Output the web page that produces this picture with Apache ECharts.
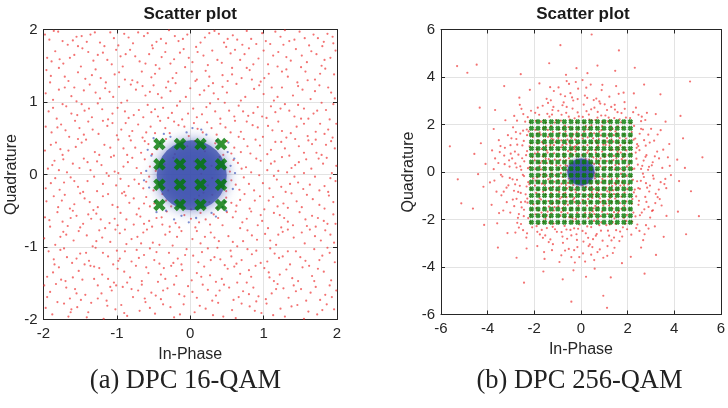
<!DOCTYPE html>
<html>
<head>
<meta charset="utf-8">
<script src="https://cdn.jsdelivr.net/npm/echarts@6/dist/echarts.min.js"></script>
<style>html,body{margin:0;padding:0;background:#fff;}#c{width:728px;height:408px;}</style>
</head>
<body>
<div id="c"></div>
<script>
// 16-QAM and 256-QAM constellation levels (in-phase / quadrature)
const levelsA = [-0.42, -0.14, 0.14, 0.42];
const levelsB = [-2.12, -1.84, -1.56, -1.27, -0.99, -0.71, -0.42, -0.14, 0.14, 0.42, 0.71, 0.99, 1.27, 1.56, 1.84, 2.12];

// (a) red DPC samples, spread over the whole [-2,2] box
const noiseA = [
[-1.97,-1.84],[-1.88,-1.93],[-1.72,-1.78],[-1.66,-1.96],[-1.54,-1.83],[-1.39,-1.9],[-1.35,-1.77],[-1.18,-1.99],[-1.02,-1.86],[-0.94,-1.8],[-0.86,-1.95],[-0.69,-1.88],[-0.61,-1.76],[-0.48,-1.92],[-0.27,-1.83],[-0.22,-1.97],[-0.09,-1.79],[0.06,-1.9],[0.13,-1.81],[0.31,-1.94],[0.38,-1.77],[0.57,-1.87],[0.62,-1.98],[0.81,-1.82],[0.97,-1.91],[1.04,-1.78],[1.23,-1.85],[1.29,-1.96],[1.46,-1.8],[1.61,-1.89],[1.73,-1.93],[1.86,-1.79],[1.96,-1.86],
[-1.91,-1.62],[-1.83,-1.51],[-1.64,-1.71],[-1.57,-1.58],[-1.43,-1.66],[-1.26,-1.53],[-1.14,-1.74],[-1.07,-1.6],[-0.92,-1.55],[-0.78,-1.69],[-0.66,-1.52],[-0.53,-1.63],[-0.4,-1.72],[-0.31,-1.57],[-0.15,-1.65],[-0.03,-1.54],[0.09,-1.7],[0.24,-1.59],[0.35,-1.67],[0.46,-1.52],[0.59,-1.73],[0.72,-1.61],[0.86,-1.56],[0.93,-1.68],[1.11,-1.64],[1.19,-1.51],[1.34,-1.7],[1.51,-1.58],[1.58,-1.74],[1.71,-1.55],[1.84,-1.66],[1.99,-1.6],
[-1.95,-1.41],[-1.79,-1.28],[-1.7,-1.47],[-1.52,-1.33],[-1.47,-1.45],[-1.31,-1.27],[-1.2,-1.38],[-1.04,-1.49],[-0.99,-1.3],[-0.82,-1.42],[-0.74,-1.26],[-0.57,-1.36],[-0.44,-1.48],[-0.36,-1.29],[-0.19,-1.4],[-0.11,-1.32],[0.02,-1.46],[0.19,-1.27],[0.27,-1.39],[0.43,-1.44],[0.51,-1.3],[0.68,-1.37],[0.77,-1.49],[0.89,-1.26],[1.07,-1.35],[1.14,-1.47],[1.31,-1.31],[1.39,-1.43],[1.53,-1.28],[1.66,-1.4],[1.82,-1.34],[1.92,-1.46],
[-1.86,-1.17],[-1.77,-1.04],[-1.61,-1.22],[-1.5,-1.09],[-1.38,-1.19],[-1.29,-1.01],[-1.12,-1.13],[-1.05,-1.24],[-0.89,-1.06],[-0.8,-1.2],[-0.63,-1.11],[-0.55,-1.02],[-0.42,-1.23],[-0.29,-1.08],[-0.17,-1.16],[-0.05,-1.03],[0.11,-1.21],[0.16,-1.07],[0.33,-1.14],[0.47,-1.25],[0.55,-1.05],[0.7,-1.18],[0.84,-1.1],[0.96,-1.22],[1.09,-1.02],[1.21,-1.15],[1.36,-1.24],[1.44,-1.06],[1.57,-1.19],[1.69,-1.03],[1.8,-1.12],[1.97,-1.21],
[-1.99,-0.88],[-1.84,-0.97],[-1.73,-0.79],[-1.59,-0.91],[-1.41,-0.84],[-1.33,-0.99],[-1.24,-0.77],[-1.09,-0.93],[-0.96,-0.81],[-0.87,-0.96],[-0.72,-0.86],[-0.59,-0.76],[-0.51,-0.94],[-0.34,-0.83],[-0.24,-0.98],[-0.12,-0.78],[0.03,-0.89],[0.14,-0.95],[0.28,-0.8],[0.39,-0.92],[0.52,-0.85],[0.64,-0.99],[0.78,-0.77],[0.91,-0.9],[1.02,-0.82],[1.17,-0.97],[1.26,-0.79],[1.41,-0.87],[1.56,-0.95],[1.63,-0.76],[1.78,-0.91],[1.91,-0.83],
[-1.92,-0.63],[-1.81,-0.52],[-1.67,-0.71],[-1.55,-0.57],[-1.46,-0.68],[-1.28,-0.54],[-1.16,-0.74],[-1.03,-0.61],[-0.95,-0.53],[-0.77,-0.69],[-0.68,-0.58],[-0.52,-0.72],[-0.46,-0.6],[-0.32,-0.51],[-0.2,-0.67],[-0.08,-0.56],[0.07,-0.73],[0.21,-0.62],[0.32,-0.55],[0.44,-0.7],[0.58,-0.59],[0.71,-0.66],[0.83,-0.51],[0.98,-0.64],[1.06,-0.74],[1.22,-0.56],[1.33,-0.65],[1.49,-0.52],[1.59,-0.71],[1.74,-0.6],[1.87,-0.68],[1.95,-0.55],
[-1.96,-0.37],[-1.8,-0.45],[-1.71,-0.28],[-1.58,-0.41],[-1.44,-0.33],[-1.32,-0.49],[-1.19,-0.3],[-1.06,-0.42],[-0.93,-0.26],[-0.83,-0.39],[-0.7,-0.47],[-0.6,-0.31],[-0.49,-0.4],[-0.38,-0.27],[-0.26,-0.44],[-0.13,-0.35],[0.01,-0.48],[0.12,-0.29],[0.26,-0.38],[0.37,-0.46],[0.49,-0.32],[0.63,-0.43],[0.74,-0.27],[0.88,-0.36],[1.01,-0.48],[1.13,-0.31],[1.27,-0.4],[1.38,-0.26],[1.52,-0.45],[1.67,-0.34],[1.76,-0.42],[1.89,-0.29],
[-1.9,-0.12],[-1.78,-0.21],[-1.63,-0.04],[-1.53,-0.17],[-1.4,-0.09],[-1.27,-0.23],[-1.11,-0.02],[-1.01,-0.15],[-0.9,-0.24],[-0.76,-0.07],[-0.64,-0.19],[-0.56,-0.03],[-0.43,-0.14],[-0.3,-0.22],[-0.18,-0.06],[-0.06,-0.18],[0.08,-0.1],[0.18,-0.25],[0.3,-0.05],[0.42,-0.16],[0.56,-0.08],[0.67,-0.21],[0.8,-0.13],[0.94,-0.01],[1.08,-0.19],[1.18,-0.07],[1.3,-0.24],[1.47,-0.11],[1.54,-0.2],[1.7,-0.03],[1.83,-0.16],[1.98,-0.09],
[-1.94,0.08],[-1.85,0.19],[-1.68,0.03],[-1.6,0.15],[-1.45,0.22],[-1.36,0.06],[-1.21,0.13],[-1.08,0.24],[-0.98,0.02],[-0.85,0.17],[-0.73,0.09],[-0.62,0.21],[-0.47,0.05],[-0.35,0.14],[-0.23,0.23],[-0.1,0.07],[0.05,0.18],[0.15,0.01],[0.29,0.12],[0.4,0.24],[0.54,0.04],[0.65,0.16],[0.76,0.1],[0.9,0.22],[1.05,0.06],[1.15,0.18],[1.32,0.03],[1.43,0.13],[1.58,0.21],[1.65,0.08],[1.81,0.15],[1.93,0.02],
[-1.98,0.33],[-1.83,0.44],[-1.74,0.27],[-1.56,0.38],[-1.42,0.48],[-1.3,0.31],[-1.17,0.41],[-1.04,0.26],[-0.91,0.36],[-0.81,0.47],[-0.67,0.3],[-0.57,0.42],[-0.45,0.35],[-0.33,0.49],[-0.21,0.28],[-0.04,0.39],[0.06,0.46],[0.2,0.32],[0.34,0.43],[0.45,0.27],[0.6,0.37],[0.73,0.49],[0.82,0.29],[0.95,0.4],[1.1,0.34],[1.24,0.45],[1.35,0.26],[1.48,0.39],[1.61,0.47],[1.72,0.3],[1.85,0.41],[1.97,0.36],
[-1.89,0.58],[-1.76,0.69],[-1.65,0.52],[-1.51,0.64],[-1.39,0.73],[-1.25,0.56],[-1.13,0.67],[-1.0,0.54],[-0.88,0.71],[-0.79,0.6],[-0.65,0.51],[-0.54,0.66],[-0.41,0.74],[-0.28,0.57],[-0.16,0.68],[-0.02,0.53],[0.1,0.63],[0.23,0.72],[0.36,0.55],[0.48,0.65],[0.61,0.74],[0.69,0.59],[0.85,0.68],[0.99,0.52],[1.12,0.61],[1.2,0.73],[1.37,0.57],[1.45,0.66],[1.6,0.53],[1.77,0.7],[1.88,0.62],[1.94,0.51],
[-1.93,0.87],[-1.82,0.77],[-1.69,0.94],[-1.54,0.82],[-1.48,0.97],[-1.34,0.79],[-1.2,0.9],[-1.06,0.84],[-0.94,0.99],[-0.84,0.78],[-0.7,0.89],[-0.58,0.96],[-0.44,0.8],[-0.37,0.92],[-0.25,0.85],[-0.11,0.76],[0.04,0.91],[0.16,0.83],[0.27,0.98],[0.41,0.77],[0.53,0.88],[0.66,0.95],[0.79,0.81],[0.92,0.93],[1.04,0.78],[1.16,0.86],[1.29,0.97],[1.42,0.8],[1.55,0.91],[1.68,0.84],[1.79,0.99],[1.9,0.76],
[-1.97,1.12],[-1.87,1.03],[-1.71,1.2],[-1.62,1.08],[-1.45,1.16],[-1.37,1.24],[-1.23,1.05],[-1.1,1.14],[-0.97,1.21],[-0.86,1.02],[-0.74,1.17],[-0.61,1.09],[-0.5,1.23],[-0.39,1.06],[-0.27,1.15],[-0.14,1.01],[0.0,1.19],[0.13,1.1],[0.25,1.22],[0.38,1.04],[0.5,1.13],[0.63,1.25],[0.75,1.07],[0.87,1.18],[1.0,1.11],[1.14,1.02],[1.25,1.2],[1.4,1.09],[1.53,1.17],[1.64,1.04],[1.76,1.23],[1.92,1.13],
[-1.9,1.36],[-1.79,1.47],[-1.66,1.29],[-1.53,1.41],[-1.43,1.32],[-1.29,1.45],[-1.15,1.27],[-1.03,1.38],[-0.92,1.49],[-0.79,1.3],[-0.66,1.42],[-0.53,1.34],[-0.42,1.46],[-0.3,1.28],[-0.19,1.4],[-0.07,1.48],[0.09,1.31],[0.21,1.43],[0.31,1.26],[0.44,1.37],[0.57,1.47],[0.7,1.33],[0.81,1.44],[0.96,1.28],[1.07,1.39],[1.19,1.49],[1.33,1.35],[1.46,1.27],[1.57,1.42],[1.7,1.31],[1.84,1.46],[1.96,1.38],
[-1.95,1.61],[-1.84,1.7],[-1.73,1.53],[-1.58,1.65],[-1.47,1.74],[-1.32,1.57],[-1.19,1.68],[-1.07,1.52],[-0.95,1.63],[-0.82,1.72],[-0.69,1.56],[-0.56,1.66],[-0.47,1.51],[-0.34,1.69],[-0.22,1.59],[-0.09,1.73],[0.03,1.55],[0.18,1.64],[0.3,1.71],[0.43,1.54],[0.55,1.67],[0.68,1.58],[0.8,1.74],[0.93,1.6],[1.06,1.52],[1.2,1.69],[1.31,1.62],[1.44,1.73],[1.59,1.55],[1.72,1.66],[1.83,1.58],[1.98,1.71],
[-1.92,1.86],[-1.8,1.97],[-1.67,1.79],[-1.55,1.9],[-1.41,1.83],[-1.3,1.96],[-1.17,1.77],[-1.04,1.88],[-0.9,1.94],[-0.78,1.81],[-0.63,1.91],[-0.52,1.78],[-0.4,1.87],[-0.29,1.99],[-0.16,1.84],[-0.04,1.93],[0.08,1.76],[0.2,1.89],[0.33,1.98],[0.46,1.82],[0.58,1.92],[0.71,1.79],[0.83,1.87],[0.98,1.95],[1.09,1.8],[1.23,1.9],[1.35,1.84],[1.49,1.97],[1.62,1.78],[1.74,1.88],[1.87,1.94],[1.95,1.81],
[-1.81,-1.76],[-1.62,-1.86],[-1.41,-1.97],[-1.13,-1.81],[-0.9,-1.91],[-0.55,-1.84],[-0.37,-1.79],[-0.14,-1.93],[0.21,-1.85],[0.45,-1.96],[0.7,-1.78],[0.88,-1.88],[1.13,-1.94],[1.38,-1.82],[1.55,-1.99],[1.8,-1.87],
[-1.95,-1.69],[-1.69,-1.56],[-1.49,-1.73],[-1.21,-1.64],[-1.01,-1.53],[-0.71,-1.6],[-0.47,-1.67],[-0.22,-1.52],[0.03,-1.62],[0.3,-1.74],[0.53,-1.56],[0.8,-1.65],[1.03,-1.72],[1.27,-1.57],[1.64,-1.63],[1.9,-1.53],
[-1.87,-1.35],[-1.6,-1.42],[-1.36,-1.26],[-1.12,-1.44],[-0.9,-1.34],[-0.66,-1.47],[-0.4,-1.38],[-0.26,-1.26],[0.09,-1.36],[0.35,-1.48],[0.6,-1.27],[0.83,-1.41],[1.01,-1.29],[1.22,-1.38],[1.47,-1.47],[1.74,-1.3],
[-1.93,-1.06],[-1.68,-1.14],[-1.44,-1.24],[-1.19,-1.08],[-0.96,-1.16],[-0.73,-1.04],[-0.49,-1.18],[-0.23,-1.22],[0.04,-1.12],[0.24,-1.02],[0.41,-1.17],[0.63,-1.23],[0.9,-1.05],[1.15,-1.09],[1.5,-1.14],[1.87,-1.01],
[-1.77,-0.86],[-1.52,-0.78],[-1.28,-0.92],[-1.02,-0.76],[-0.8,-0.89],[-0.64,-0.8],[-0.42,-0.97],[-0.18,-0.86],[0.09,-0.78],[0.33,-0.87],[0.58,-0.93],[0.84,-0.84],[1.09,-0.91],[1.33,-0.76],[1.7,-0.85],[1.96,-0.94],
[-1.98,-0.59],[-1.74,-0.65],[-1.5,-0.73],[-1.22,-0.62],[-0.99,-0.7],[-0.73,-0.55],[-0.56,-0.64],[-0.28,-0.72],[0.01,-0.61],[0.27,-0.69],[0.5,-0.52],[0.77,-0.61],[1.14,-0.53],[1.4,-0.7],[1.66,-0.57],[1.82,-0.64],
[-1.86,-0.3],[-1.64,-0.47],[-1.37,-0.38],[-1.12,-0.27],[-0.99,-0.45],[-0.77,-0.33],[-0.55,-0.44],[-0.33,-0.36],[0.06,-0.34],[0.3,-0.28],[0.56,-0.39],[0.81,-0.47],[1.07,-0.36],[1.33,-0.46],[1.59,-0.28],[1.95,-0.38],
[-1.97,-0.19],[-1.72,-0.11],[-1.46,-0.24],[-1.19,-0.13],[-0.95,-0.06],[-0.7,-0.13],[-0.5,-0.22],[0.24,-0.15],[0.49,-0.23],[0.73,-0.04],[0.99,-0.12],[1.24,-0.17],[1.42,-0.03],[1.63,-0.14],[1.76,-0.22],[1.91,-0.05],
[-1.88,0.13],[-1.73,0.21],[-1.51,0.09],[-1.27,0.18],[-1.03,0.04],[-0.79,0.23],[-0.55,0.11],[0.35,0.07],[0.59,0.2],[0.83,0.03],[1.1,0.15],[1.25,0.24],[1.38,0.09],[1.55,0.02],[1.75,0.22],[1.99,0.12],
[-1.9,0.41],[-1.66,0.33],[-1.48,0.44],[-1.24,0.27],[-0.98,0.48],[-0.75,0.37],[-0.52,0.28],[0.5,0.46],[0.69,0.31],[0.89,0.48],[1.05,0.28],[1.29,0.36],[1.43,0.49],[1.66,0.42],[1.79,0.27],[1.92,0.46],
[-1.97,0.66],[-1.7,0.61],[-1.45,0.55],[-1.19,0.74],[-0.94,0.62],[-0.71,0.69],[-0.48,0.57],[-0.22,0.73],[0.05,0.71],[0.29,0.64],[0.55,0.58],[0.77,0.73],[1.06,0.67],[1.31,0.51],[1.55,0.7],[1.83,0.56],
[-1.87,0.92],[-1.62,0.84],[-1.38,0.91],[-1.12,0.76],[-0.89,0.87],[-0.64,0.79],[-0.48,0.9],[-0.18,0.95],[0.09,0.79],[0.34,0.87],[0.6,0.8],[0.86,0.85],[1.1,0.94],[1.35,0.88],[1.61,0.77],[1.85,0.89],
[-1.79,1.17],[-1.55,1.01],[-1.29,1.13],[-1.05,1.07],[-0.81,1.24],[-0.55,1.14],[-0.33,1.2],[-0.06,1.07],[0.19,1.16],[0.44,1.21],[0.69,1.02],[0.94,1.23],[1.19,1.07],[1.47,1.22],[1.7,1.15],[1.97,1.05],
[-1.96,1.44],[-1.71,1.35],[-1.49,1.49],[-1.22,1.33],[-0.97,1.41],[-0.72,1.27],[-0.48,1.39],[-0.24,1.33],[0.02,1.42],[0.26,1.35],[0.51,1.29],[0.77,1.47],[1.01,1.33],[1.25,1.42],[1.51,1.48],[1.77,1.39],
[-1.89,1.56],[-1.64,1.61],[-1.39,1.69],[-1.13,1.58],[-0.88,1.66],[-0.61,1.53],[-0.39,1.62],[-0.14,1.68],[0.1,1.69],[0.37,1.58],[0.61,1.72],[0.86,1.52],[1.13,1.64],[1.37,1.57],[1.65,1.7],[1.91,1.61],
[-1.98,1.93],[-1.74,1.84],[-1.48,1.91],[-1.23,1.82],[-0.98,1.78],[-0.71,1.96],[-0.46,1.83],[-0.21,1.91],[0.14,1.82],[0.39,1.94],[0.64,1.86],[0.9,1.8],[1.16,1.97],[1.42,1.86],[1.68,1.93],[1.8,1.77],
[-1.63,-1.9],[-1.26,-1.71],[-0.8,-1.58],[-0.34,-1.44],[0.17,-1.52],[0.66,-1.69],[1.08,-1.42],[1.44,-1.61],[1.77,-1.73],[-1.85,-1.24],[-1.42,-1.08],[-0.98,-1.19],[-0.6,-1.28],[-0.07,-1.11],[0.37,-1.01],[0.8,-1.32],[1.26,-1.13],[1.62,-1.26],[1.9,-1.08],
[-1.69,-0.83],[-1.2,-0.87],[-0.67,-0.95],[-0.28,-0.79],[0.2,-0.86],[0.72,-0.92],[1.2,-0.83],[1.52,-0.8],[1.84,-0.77],[-1.6,-0.5],[-1.35,-0.61],[-0.87,-0.62],[-0.39,-0.59],[0.14,-0.53],[0.62,-0.51],[0.92,-0.7],[1.28,-0.6],[1.71,-0.72],
[-1.75,-0.36],[-1.5,-0.26],[-1.26,-0.45],[-0.88,-0.29],[-0.63,-0.4],[0.68,-0.35],[0.95,-0.3],[1.19,-0.44],[1.45,-0.37],[1.83,-0.47],[-1.84,-0.05],[-1.58,-0.09],[-1.31,-0.03],[-0.84,-0.16],[-0.6,-0.1],[0.62,-0.14],[0.87,-0.22],[1.14,-0.02],[1.36,-0.13],[1.88,-0.24],
[-1.79,0.06],[-1.4,0.17],[-1.14,0.02],[-0.91,0.11],[-0.67,0.02],[0.7,0.08],[0.96,0.19],[1.2,0.05],[1.48,0.17],[1.86,0.23],[-1.77,0.35],[-1.53,0.49],[-1.09,0.37],[-0.86,0.27],[-0.62,0.46],[0.56,0.29],[0.78,0.39],[1.16,0.45],[1.55,0.3],[1.71,0.48],
[-1.81,0.65],[-1.57,0.74],[-1.33,0.62],[-1.06,0.71],[-0.83,0.53],[-0.6,0.58],[-0.34,0.64],[-0.08,0.66],[0.17,0.58],[0.41,0.7],[0.66,0.52],[0.92,0.65],[1.25,0.6],[1.51,0.77],[1.71,0.59],[1.99,0.7],
[-1.74,0.97],[-1.44,0.88],[-1.26,0.98],[-0.99,0.92],[-0.77,0.82],[-0.53,0.86],[-0.3,0.78],[-0.03,0.84],[0.22,0.93],[0.47,0.99],[0.72,0.87],[0.98,0.8],[1.23,0.91],[1.47,0.96],[1.73,0.88],[1.95,0.97],
[-1.91,1.27],[-1.58,1.2],[-1.34,1.37],[-1.16,1.19],[-0.89,1.31],[-0.65,1.22],[-0.44,1.11],[-0.2,1.26],[0.07,1.29],[0.32,1.12],[0.57,1.38],[0.84,1.31],[1.11,1.2],[1.31,1.45],[1.6,1.3],[1.88,1.2],
[-1.78,1.59],[-1.53,1.77],[-1.26,1.65],[-1.01,1.72],[-0.75,1.63],[-0.51,1.74],[-0.27,1.53],[-0.02,1.61],[0.24,1.51],[0.49,1.76],[0.74,1.66],[1.0,1.71],[1.27,1.79],[1.52,1.64],[1.79,1.5],[1.94,1.9],
[-1.86,1.98],[-1.6,1.85],[-1.36,1.93],[-1.09,1.96],[-0.84,1.89],[-0.58,1.95],[-0.33,1.81],[-0.1,1.87],[0.26,1.95],[0.51,1.87],[0.77,1.98],[1.03,1.84],[1.29,1.99],[1.56,1.88],[1.82,1.83],
[-1.99,-1.53],[-1.76,-1.45],[-1.55,-1.64],[-1.31,-1.44],[-1.09,-1.55],[-0.86,-1.49],[-0.62,-1.71],[-0.37,-1.6],[-0.08,-1.68],[0.15,-1.41],[0.4,-1.6],[0.64,-1.49],[0.9,-1.75],[1.17,-1.58],[1.41,-1.53],[1.69,-1.47],[1.93,-1.69],
[-1.72,-1.02],[-1.55,-1.16],[-1.24,-1.29],[-1.0,-1.05],[-0.7,-1.15],[-0.46,-1.07],[-0.12,-1.24],[0.28,-1.18],[0.56,-1.13],[0.78,-1.03],[1.05,-1.2],[1.33,-1.06],[1.76,-1.18],
[-1.91,-0.72],[-1.63,-0.6],[-1.39,-0.55],[-1.1,-0.67],[-0.89,-0.76],[-0.63,-0.68],[-0.38,-0.69],[-0.15,-0.73],[0.12,-0.66],[0.38,-0.6],[0.68,-0.74],[0.96,-0.56],[1.24,-0.73],[1.57,-0.62],[1.98,-0.68]
];

// (a) blue received cloud around the origin, with a speckled rim
const blueA = [[0.02,-0.01]];
const blueEdgeA = [[0.55,0.12],[0.58,-0.2],[0.51,0.31],[0.47,-0.38],[0.36,0.47],[0.22,0.55],[-0.05,0.58],[-0.27,0.52],[-0.41,0.43],[-0.53,0.26],[-0.6,0.05],[-0.56,-0.18],[-0.48,-0.37],[-0.33,-0.5],[-0.12,-0.57],[0.08,-0.6],[0.29,-0.53],[0.44,-0.45],[0.61,0.02],[-0.63,-0.08],[0.03,0.64],[-0.02,-0.66],[0.52,0.44],[-0.5,0.5],[-0.46,-0.52],[0.49,-0.5],[0.6,0.22],[-0.58,0.34],[0.35,-0.58],[-0.22,-0.62],[0.15,0.62],[-0.36,0.56]];

// (b) red DPC samples, concentrated around the origin
const noiseB = [
[0.12,0.35],[0.27,0.81],[0.44,0.18],[0.53,0.62],[0.68,0.09],[0.79,0.47],[0.91,0.86],[0.06,0.71],[0.35,0.52],[0.61,0.93],[0.83,0.24],[0.19,0.05],[0.48,0.39],[0.72,0.68],
[-0.08,0.44],[-0.23,0.87],[-0.37,0.13],[-0.51,0.58],[-0.66,0.29],[-0.74,0.77],[-0.89,0.51],[-0.14,0.66],[-0.42,0.95],[-0.58,0.07],[-0.81,0.16],[-0.95,0.92],[-0.31,0.34],[-0.63,0.49],
[-0.11,-0.27],[-0.26,-0.74],[-0.39,-0.09],[-0.55,-0.46],[-0.67,-0.88],[-0.78,-0.21],[-0.92,-0.61],[-0.05,-0.93],[-0.33,-0.55],[-0.47,-0.97],[-0.71,-0.36],[-0.86,-0.05],[-0.19,-0.42],[-0.6,-0.69],
[0.09,-0.15],[0.22,-0.63],[0.38,-0.31],[0.47,-0.85],[0.59,-0.06],[0.73,-0.52],[0.87,-0.94],[0.14,-0.79],[0.31,-0.97],[0.64,-0.41],[0.81,-0.2],[0.95,-0.67],[0.42,-0.48],[0.55,-0.72],
[1.07,0.22],[1.18,0.71],[1.29,0.43],[1.36,0.94],[1.45,0.11],[1.52,0.58],[1.63,0.33],[1.71,0.82],[1.84,0.05],[1.92,0.49],[1.24,0.17],[1.58,0.77],
[1.04,-0.36],[1.13,-0.81],[1.27,-0.12],[1.34,-0.59],[1.42,-0.93],[1.55,-0.27],[1.61,-0.68],[1.76,-0.44],[1.87,-0.87],[1.96,-0.16],[1.21,-0.52],[1.49,-0.74],
[-1.06,0.28],[-1.15,0.79],[-1.26,0.07],[-1.38,0.54],[-1.47,0.91],[-1.56,0.19],[-1.64,0.66],[-1.73,0.38],[-1.85,0.84],[-1.94,0.13],[-1.31,0.45],[-1.68,0.97],
[-1.09,-0.14],[-1.19,-0.62],[-1.28,-0.89],[-1.4,-0.31],[-1.51,-0.76],[-1.59,-0.08],[-1.67,-0.49],[-1.79,-0.95],[-1.88,-0.23],[-1.97,-0.57],[-1.35,-0.42],[-1.62,-0.83],
[0.11,1.08],[0.29,1.46],[0.36,1.87],[0.48,1.21],[0.57,1.63],[0.69,1.04],[0.77,1.39],[0.88,1.76],[0.96,1.15],[0.04,1.55],[0.21,1.93],[0.62,1.31],
[-0.07,1.22],[-0.18,1.67],[-0.3,1.05],[-0.41,1.44],[-0.53,1.89],[-0.62,1.17],[-0.73,1.58],[-0.84,1.33],[-0.93,1.79],[-0.25,1.36],[-0.46,1.12],[-0.69,1.95],
[-0.04,-1.31],[-0.16,-1.72],[-0.28,-1.09],[-0.39,-1.52],[-0.5,-1.91],[-0.61,-1.24],[-0.75,-1.63],[-0.82,-1.06],[-0.97,-1.45],[-0.22,-1.98],[-0.56,-1.38],[-0.88,-1.84],
[0.08,-1.18],[0.17,-1.59],[0.32,-1.94],[0.43,-1.27],[0.51,-1.66],[0.66,-1.03],[0.74,-1.48],[0.85,-1.86],[0.94,-1.21],[0.26,-1.41],[0.58,-1.77],[0.13,-1.02],
[1.06,1.14],[1.18,1.57],[1.27,1.92],[1.39,1.28],[1.48,1.71],[1.57,1.05],[1.66,1.43],[1.78,1.86],[1.89,1.22],[1.31,1.38],[1.54,1.62],
[-1.09,1.26],[-1.2,1.69],[-1.33,1.03],[-1.41,1.48],[-1.53,1.88],[-1.61,1.19],[-1.72,1.57],[-1.84,1.34],[-1.95,1.77],[-1.26,1.41],[-1.49,1.11],
[-1.04,-1.19],[-1.16,-1.62],[-1.29,-1.07],[-1.37,-1.46],[-1.46,-1.83],[-1.58,-1.28],[-1.69,-1.71],[-1.77,-1.11],[-1.91,-1.52],[-1.24,-1.35],[-1.52,-1.97],
[1.08,-1.33],[1.14,-1.76],[1.25,-1.09],[1.36,-1.54],[1.44,-1.95],[1.55,-1.21],[1.63,-1.64],[1.74,-1.04],[1.86,-1.42],[1.97,-1.81],[1.32,-1.27],
[2.06,0.31],[2.17,0.78],[2.29,0.14],[2.38,0.56],[2.51,0.92],[2.63,0.26],[2.77,0.64],[2.88,0.09],
[2.04,-0.52],[2.15,-0.18],[2.27,-0.86],[2.41,-0.39],[2.53,-0.71],[2.66,-0.07],[2.79,-0.47],[2.93,-0.82],
[-2.08,0.62],[-2.19,0.21],[-2.31,0.88],[-2.43,0.45],[-2.56,0.09],[-2.68,0.73],[-2.81,0.36],[-2.95,0.57],
[-2.05,-0.27],[-2.14,-0.71],[-2.26,-0.43],[-2.37,-0.94],[-2.49,-0.12],[-2.62,-0.58],[-2.74,-0.33],[-2.87,-0.79],
[0.13,2.07],[0.34,2.42],[0.46,2.18],[0.58,2.71],[0.71,2.29],[0.83,2.88],[0.92,2.11],[0.24,2.56],
[-0.09,2.34],[-0.21,2.09],[-0.36,2.67],[-0.48,2.21],[-0.63,2.49],[-0.74,2.93],[-0.86,2.16],[-0.97,2.58],
[-0.06,-2.21],[-0.19,-2.62],[-0.33,-2.08],[-0.45,-2.44],[-0.59,-2.81],[-0.7,-2.27],[-0.83,-2.53],[-0.95,-2.12],
[0.07,-2.48],[0.18,-2.13],[0.31,-2.77],[0.44,-2.32],[0.56,-2.06],[0.68,-2.61],[0.79,-2.24],[0.93,-2.89],
[2.07,1.23],[2.18,1.68],[2.33,1.41],[2.46,1.09],[2.58,1.82],[2.71,1.34],[2.89,1.57],
[2.09,-1.56],[2.21,-1.14],[2.34,-1.87],[2.47,-1.38],[2.61,-1.71],[2.76,-1.05],[2.9,-1.47],
[-2.06,1.47],[-2.2,1.08],[-2.32,1.79],[-2.45,1.31],[-2.6,1.62],[-2.73,1.15],[-2.91,1.88],
[-2.04,-1.36],[-2.16,-1.81],[-2.3,-1.12],[-2.44,-1.59],[-2.57,-1.27],[-2.7,-1.93],[-2.86,-1.44],
[1.05,2.38],[1.16,2.13],[1.3,2.74],[1.43,2.27],[1.57,2.52],[1.72,2.09],[1.88,2.66],
[-1.07,2.19],[-1.22,2.61],[-1.35,2.33],[-1.5,2.08],[-1.64,2.79],[-1.79,2.41],[-1.93,2.15],
[-1.03,-2.52],[-1.17,-2.17],[-1.31,-2.84],[-1.46,-2.36],[-1.6,-2.1],[-1.76,-2.63],[-1.9,-2.28],
[1.09,-2.24],[1.21,-2.68],[1.37,-2.11],[1.51,-2.45],[1.65,-2.91],[1.8,-2.33],[1.94,-2.06],
[2.11,2.27],[2.36,2.71],[2.58,2.14],[2.83,2.49],[-2.14,2.58],[-2.39,2.12],[-2.62,2.83],[-2.86,2.36],
[-2.09,-2.33],[-2.34,-2.76],[-2.57,-2.19],[-2.81,-2.55],[2.16,-2.64],[2.42,-2.21],[2.67,-2.87],[2.9,-2.38],
[3.08,0.41],[3.27,0.86],[3.49,0.17],[3.73,0.62],[3.12,-0.28],[3.34,-0.74],[3.58,-0.51],[3.86,-0.13],
[-3.06,0.23],[-3.29,0.69],[-3.54,0.38],[-3.81,0.91],[-3.11,-0.56],[-3.37,-0.19],[-3.62,-0.83],[-3.9,-0.44],
[0.17,3.22],[0.42,3.68],[0.66,3.09],[0.89,3.45],[-0.12,3.51],[-0.38,3.14],[-0.61,3.83],[-0.87,3.27],
[-0.15,-3.16],[-0.41,-3.58],[-0.68,-3.31],[-0.92,-3.79],[0.09,-3.43],[0.33,-3.12],[0.57,-3.71],[0.81,-3.26],
[3.14,1.32],[3.42,1.76],[3.79,1.18],[3.09,-1.61],[3.38,-1.14],[3.67,-1.85],[-3.13,1.55],[-3.45,1.09],[-3.74,1.81],
[-3.18,-1.27],[-3.51,-1.73],[-3.83,-1.38],[1.22,3.17],[1.51,3.62],[1.83,3.34],[-1.16,3.41],[-1.47,3.08],[-1.78,3.73],
[-1.24,-3.29],[-1.56,-3.66],[-1.87,-3.12],[1.13,-3.53],[1.44,-3.19],[1.76,-3.84],
[3.21,2.44],[3.63,2.12],[3.17,-2.29],[3.55,-2.73],[-3.24,2.18],[-3.68,2.61],[-3.15,-2.57],[-3.59,-2.16],
[2.27,3.31],[2.71,3.68],[-2.19,3.46],[-2.64,3.13],[-2.33,-3.22],[-2.76,-3.61],[2.14,-3.57],[2.58,-3.18],
[4.13,0.52],[4.46,0.17],[4.21,-0.38],[4.72,-0.81],[-4.09,0.34],[-4.57,0.76],[-4.18,-0.62],[-4.41,-0.09],
[0.28,4.16],[0.71,4.48],[-0.19,4.37],[-0.64,4.09],[-0.32,-4.14],[-0.78,-4.52],[0.22,-4.41],[0.59,-4.07],
[4.38,1.42],[4.16,-1.67],[-4.29,1.21],[-4.63,-1.54],[1.47,4.26],[-1.36,4.58],[-1.61,-4.19],[1.28,-4.44],
[3.41,3.27],[-3.29,3.62],[-3.56,-3.18],[3.22,-3.49],
[4.27,2.36],[4.51,-2.62],[-4.34,2.71],[-4.15,-2.23],[2.31,4.39],[-2.58,4.12],[-2.44,-4.66],[2.73,-4.28],
[5.21,0.62],[-5.13,-1.32],[0.46,5.79],[-0.88,5.34],[1.12,-5.72],[-0.41,-5.46],[5.06,-1.86],[-5.62,1.08],[4.68,3.81],[-4.47,4.52],[0.96,-5.21],[1.63,5.12],[-5.28,-0.31],[-5.31,4.46],[-4.87,4.18],
[0.26,0.12],[0.57,0.34],[0.84,0.57],[0.38,0.76],[0.15,0.93],[0.93,0.12],[0.64,0.82],
[-0.21,0.16],[-0.47,0.32],[-0.72,0.61],[-0.33,0.72],[-0.88,0.27],[-0.55,0.88],[-0.12,0.97],
[-0.28,-0.13],[-0.51,-0.28],[-0.83,-0.49],[-0.41,-0.78],[-0.16,-0.61],[-0.93,-0.84],[-0.68,-0.12],
[0.33,-0.09],[0.61,-0.27],[0.88,-0.44],[0.27,-0.46],[0.52,-0.95],[0.76,-0.78],[0.07,-0.57],
[1.11,0.46],[1.33,0.21],[1.57,0.86],[1.81,0.62],[1.68,0.14],[1.41,0.68],[1.94,0.91],
[1.16,-0.19],[1.38,-0.77],[1.62,-0.38],[1.85,-0.55],[1.29,-0.96],[1.72,-0.08],[1.5,-0.53],
[-1.12,0.52],[-1.34,0.16],[-1.59,0.72],[-1.82,0.41],[-1.46,0.37],[-1.71,0.11],[-1.97,0.78],
[-1.14,-0.41],[-1.37,-0.69],[-1.61,-0.22],[-1.83,-0.74],[-1.25,-0.07],[-1.52,-0.94],[-1.94,-0.36],
[0.19,1.27],[0.42,1.65],[0.73,1.12],[0.86,1.54],[0.31,1.79],[0.66,1.89],[0.08,1.41],
[-0.14,1.49],[-0.37,1.82],[-0.58,1.36],[-0.79,1.13],[-0.91,1.64],[-0.24,1.08],[-0.66,1.71],
[-0.11,-1.42],[-0.33,-1.16],[-0.57,-1.73],[-0.71,-1.37],[-0.9,-1.12],[-0.43,-1.88],[-0.84,-1.69],
[0.21,-1.29],[0.38,-1.72],[0.62,-1.43],[0.81,-1.11],[0.91,-1.67],[0.49,-1.09],[0.12,-1.86],
[1.12,1.43],[1.36,1.82],[1.63,1.24],[1.84,1.58],[1.23,1.12],
[-1.18,1.36],[-1.42,1.77],[-1.67,1.26],[-1.88,1.62],[-1.31,1.14],
[-1.13,-1.48],[-1.39,-1.22],[-1.64,-1.85],[-1.86,-1.34],[-1.27,-1.74],
[1.18,-1.17],[1.42,-1.69],[1.67,-1.31],[1.91,-1.58],[1.29,-1.88],
[2.12,0.45],[2.35,0.82],[2.58,0.13],[2.81,0.71],[3.04,0.28],[2.23,-0.33],[2.46,-0.68],[2.7,-0.21],[2.96,-0.57],[3.21,-0.92],
[-2.13,0.38],[-2.35,0.71],[-2.6,0.24],[-2.83,0.86],[-3.08,0.49],[-2.21,-0.52],[-2.44,-0.17],[-2.69,-0.84],[-2.93,-0.31],[-3.19,-0.66],
[0.36,2.21],[0.72,2.53],[0.12,2.84],[0.55,3.03],[0.87,2.38],[-0.27,2.26],[-0.61,2.74],[-0.14,3.07],[-0.83,2.41],[-0.45,3.32],
[0.27,-2.29],[0.64,-2.68],[0.11,-2.93],[0.49,-3.16],[0.86,-2.47],[-0.29,-2.37],[-0.66,-2.09],[-0.17,-2.86],[-0.79,-2.72],[-0.52,-3.24],
[2.14,1.52],[2.41,1.17],[2.66,1.79],[2.95,1.24],[2.28,1.94],[2.19,-1.33],[2.53,-1.82],[2.81,-1.26],[2.37,-1.03],[3.05,-1.64],
[-2.15,1.21],[-2.48,1.74],[-2.77,1.39],[-2.31,1.55],[-3.02,1.13],[-2.11,-1.58],[-2.39,-1.25],[-2.66,-1.77],[-2.92,-1.16],[-2.26,-1.94],
[1.27,2.16],[1.74,2.48],[1.45,2.83],[1.12,2.61],[1.93,2.29],[-1.24,2.42],[-1.59,2.18],[-1.85,2.71],[-1.41,2.91],[-1.12,2.08],
[-1.21,-2.31],[-1.53,-2.67],[-1.82,-2.19],[-1.38,-2.95],[-1.68,-2.44],[1.16,-2.47],[1.49,-2.19],[1.77,-2.72],[1.31,-2.88],[1.98,-2.41],
[2.24,2.52],[2.61,2.33],[-2.28,2.31],[-2.55,2.66],[-2.31,-2.58],[-2.66,-2.34],[2.37,-2.36],[2.73,-2.62],
[3.35,0.57],[3.62,-0.29],[-3.43,-0.12],[-3.68,0.57],[0.23,3.55],[-0.51,3.71],[0.44,-3.48],[-0.26,-3.81],
[3.29,1.58],[-3.33,-1.62],[1.62,3.29],[-1.58,-3.37],[3.46,-1.41],[-3.52,1.34],[-1.32,3.57],[1.37,-3.41],
[0.2,0.55],[0.49,0.08],[0.78,0.33],[0.97,0.71],[0.31,0.9],[0.66,0.55],
[-0.18,0.52],[-0.45,0.81],[-0.7,0.43],[-0.94,0.14],[-0.29,0.97],[-0.59,0.25],
[-0.22,-0.86],[-0.49,-0.63],[-0.75,-0.92],[-0.97,-0.33],[-0.36,-0.3],[-0.64,-0.55],
[0.17,-0.36],[0.46,-0.62],[0.69,-0.88],[0.92,-0.29],[0.34,-0.72],[0.59,-0.16],
[1.02,0.63],[1.26,0.92],[1.48,0.29],[1.75,0.54],[1.97,0.23],[1.39,0.5],[1.64,0.95],[1.88,0.74],
[1.09,-0.67],[1.32,-0.3],[1.58,-0.91],[1.79,-0.21],[1.99,-0.72],[1.45,-0.47],[1.69,-0.57],[1.23,-0.85],
[-1.03,0.66],[-1.24,0.35],[-1.51,0.56],[-1.77,0.24],[-1.98,0.49],[-1.43,0.82],[-1.66,0.46],[-1.89,0.96],
[-1.05,-0.78],[-1.31,-0.25],[-1.55,-0.55],[-1.74,-0.12],[-1.92,-0.88],[-1.46,-0.15],[-1.22,-0.95],[-1.81,-0.44],
[0.28,1.13],[0.52,1.42],[0.79,1.69],[0.98,1.31],[0.14,1.71],[0.45,1.96],[0.91,1.93],[0.68,1.23],
[-0.16,1.16],[-0.5,1.29],[-0.76,1.84],[-0.97,1.43],[-0.32,1.59],[-0.6,1.53],[-0.11,1.85],[-0.85,1.04],
[-0.27,-1.27],[-0.46,-1.61],[-0.69,-1.91],[-0.92,-1.28],[-0.13,-1.55],[-0.62,-1.06],[-0.36,-1.94],[-0.8,-1.53],
[0.31,-1.14],[0.55,-1.53],[0.72,-1.97],[0.96,-1.41],[0.18,-1.73],[0.44,-1.84],[0.83,-1.27],[0.67,-1.61],
[1.14,1.28],[1.41,1.55],[1.69,1.12],[1.93,1.41],[1.26,1.75],[1.58,1.92],[1.82,1.03],
[-1.16,1.13],[-1.37,1.58],[-1.62,1.83],[-1.86,1.19],[-1.28,1.93],[-1.54,1.35],[-1.77,1.67],
[-1.19,-1.31],[-1.43,-1.67],[-1.71,-1.16],[-1.94,-1.78],[-1.33,-1.91],[-1.58,-1.49],[-1.81,-1.62],
[1.21,-1.41],[1.47,-1.12],[1.74,-1.55],[1.94,-1.24],[1.36,-1.84],[1.59,-1.73],[1.84,-1.93],
[2.21,0.12],[2.44,0.31],[2.69,0.48],[2.92,0.22],[3.17,0.66],[2.31,-0.74],[2.57,-0.37],[2.84,-0.66],[3.09,-0.15],[3.42,-0.43],
[-2.27,0.16],[-2.52,0.58],[-2.76,0.19],[-3.01,0.77],[-3.27,0.33],[-2.33,-0.61],[-2.58,-0.88],[-2.82,-0.52],[-3.05,-0.25],[-3.31,-0.83],
[0.08,2.32],[0.44,2.64],[0.79,2.97],[0.27,3.12],[0.62,2.19],[-0.14,2.51],[-0.52,2.33],[-0.79,2.81],[-0.33,3.01],[-0.68,3.19],
[0.21,-2.58],[0.52,-2.83],[0.87,-2.12],[0.38,-3.05],[0.71,-3.37],[-0.12,-2.39],[-0.41,-2.67],[-0.77,-2.98],[-0.29,-3.29],[-0.62,-2.42],
[2.26,1.36],[2.52,1.61],[2.78,1.11],[3.01,1.82],[2.39,1.02],[2.25,-1.71],[2.49,-1.21],[2.72,-1.57],[2.97,-1.92],[3.19,-1.31],
[-2.24,1.71],[-2.51,1.12],[-2.79,1.68],[-2.98,1.42],[-3.26,1.02],[-2.29,-1.29],[-2.54,-1.49],[-2.76,-1.13],[-3.03,-1.71],[-2.45,-1.86],
[1.19,2.29],[1.46,2.63],[1.66,2.22],[1.87,2.94],[1.02,2.85],[-1.18,2.74],[-1.44,2.45],[-1.71,2.12],[-1.96,2.49],[-1.29,3.02],
[-1.11,-2.41],[-1.36,-2.14],[-1.63,-2.77],[-1.87,-2.52],[-1.2,-3.04],[1.24,-2.21],[1.42,-2.76],[1.68,-2.51],[1.91,-2.18],[1.14,-3.12],
[2.14,2.05],[2.47,2.41],[2.76,2.19],[-2.19,2.1],[-2.47,2.44],[-2.74,2.16],[-2.16,-2.12],[-2.48,-2.45],[-2.73,-2.14],[2.2,-2.09],[2.51,-2.48],[2.79,-2.24],
[3.53,0.94],[3.81,0.26],[3.29,-1.06],[3.66,-0.68],[-3.48,0.84],[-3.74,0.12],[-3.41,-0.98],[-3.71,-0.36],[0.92,3.67],[0.07,3.87],[-0.96,3.56],[-0.22,3.79],[0.96,-3.61],[0.18,-3.77],[-0.84,-3.51],[-0.07,-3.58]
];

// (b) blue received samples: tight disc at the origin
const blueB = [[0,0]];

const qamA = [];
for (const i of levelsA) for (const q of levelsA) qamA.push([i, q]);
const qamB = [];
for (const i of levelsB) for (const q of levelsB) qamB.push([i, q]);

const INK = '#262626';
const FONT = '"Liberation Sans", Arial, Helvetica, sans-serif';
const XPATH_A = 'path://M0,3 L3,0 L6,3 L9,0 L12,3 L9,6 L12,9 L9,12 L6,9 L3,12 L0,9 L3,6 Z';
const XPATH_B = 'path://M0,4 L4,0 L6,2 L8,0 L12,4 L10,6 L12,8 L8,12 L6,10 L4,12 L0,8 L2,6 Z';

function mainAxis(dim, grid, min, max, interval, name, gap) {
  return {
    type: 'value', gridIndex: grid, min: min, max: max, interval: interval,
    position: dim === 'x' ? 'bottom' : 'left',
    name: name, nameLocation: 'middle', nameGap: gap,
    nameTextStyle: { color: INK, fontSize: 16, fontFamily: FONT },
    axisLine: { show: true, onZero: false, lineStyle: { color: INK, width: 1 } },
    axisTick: { show: true, inside: true, length: 4, lineStyle: { color: INK } },
    axisLabel: { color: INK, fontSize: 15, fontFamily: FONT, margin: dim === 'x' ? 7 : 6 },
    splitLine: { show: true, lineStyle: { color: '#e3e3e3', width: 1 } }
  };
}
function mirrorAxis(dim, grid, min, max, interval) {
  return {
    type: 'value', gridIndex: grid, min: min, max: max, interval: interval,
    position: dim === 'x' ? 'top' : 'right',
    axisLine: { show: true, onZero: false, lineStyle: { color: INK, width: 1 } },
    axisTick: { show: true, inside: true, length: 4, lineStyle: { color: INK } },
    axisLabel: { show: false }, splitLine: { show: false }
  };
}

const RED = 'rgba(236,40,40,0.82)';
const chart = echarts.init(document.getElementById('c'), null, { renderer: 'canvas' });
chart.setOption({
  animation: false,
  backgroundColor: '#ffffff',
  grid: [
    { left: 43.5, top: 29.5, width: 293.5, height: 290 },
    { left: 441, top: 29.5, width: 284, height: 285 }
  ],
  xAxis: [
    mainAxis('x', 0, -2, 2, 1, 'In-Phase', 20),
    mainAxis('x', 1, -6, 6, 2, 'In-Phase', 18.5),
    mirrorAxis('x', 0, -2, 2, 1),
    mirrorAxis('x', 1, -6, 6, 2)
  ],
  yAxis: [
    mainAxis('y', 0, -2, 2, 1, 'Quadrature', 24),
    mainAxis('y', 1, -6, 6, 2, 'Quadrature', 24),
    mirrorAxis('y', 0, -2, 2, 1),
    mirrorAxis('y', 1, -6, 6, 2)
  ],
  series: [
    { type: 'scatter', xAxisIndex: 0, yAxisIndex: 0, data: noiseA, symbol: 'circle', symbolSize: 2.2, silent: true,
      itemStyle: { color: RED } },
    { type: 'scatter', xAxisIndex: 0, yAxisIndex: 0, data: blueA, symbol: 'circle', symbolSize: 70, silent: true,
      itemStyle: { color: 'rgba(54,74,170,0.92)', shadowBlur: 13, shadowColor: 'rgba(60,82,180,0.95)' } },
    { type: 'scatter', xAxisIndex: 0, yAxisIndex: 0, data: blueEdgeA, symbol: 'circle', symbolSize: 2.3, silent: true,
      itemStyle: { color: 'rgba(60,85,185,0.85)' } },
    { type: 'scatter', xAxisIndex: 0, yAxisIndex: 0, data: qamA, symbol: XPATH_A, symbolSize: 12.5, silent: true,
      itemStyle: { color: '#007800' } },
    { type: 'scatter', xAxisIndex: 1, yAxisIndex: 1, data: noiseB, symbol: 'circle', symbolSize: 2.2, silent: true,
      itemStyle: { color: RED } },
    { type: 'scatter', xAxisIndex: 1, yAxisIndex: 1, data: blueB, symbol: 'circle', symbolSize: 27, silent: true,
      itemStyle: { color: '#3a4ca8', shadowBlur: 4, shadowColor: 'rgba(58,76,168,0.9)' } },
    { type: 'scatter', xAxisIndex: 1, yAxisIndex: 1, data: qamB, symbol: XPATH_B, symbolSize: 5.5, silent: true,
      itemStyle: { color: '#007800' } }
  ],
  graphic: [
    { type: 'text', x: 190.25, y: 14, silent: true,
      style: { text: 'Scatter plot', font: 'bold 17px ' + FONT, fill: '#1a1a1a', align: 'center', verticalAlign: 'middle', textAlign: 'center', textVerticalAlign: 'middle' } },
    { type: 'text', x: 583, y: 14, silent: true,
      style: { text: 'Scatter plot', font: 'bold 17px ' + FONT, fill: '#1a1a1a', align: 'center', verticalAlign: 'middle', textAlign: 'center', textVerticalAlign: 'middle' } },
    { type: 'text', x: 185.5, y: 381, silent: true,
      style: { text: '(a) DPC 16-QAM', font: '26.5px "Liberation Serif", "Times New Roman", serif', fill: '#222', align: 'center', verticalAlign: 'middle', textAlign: 'center', textVerticalAlign: 'middle' } },
    { type: 'text', x: 579.5, y: 381, silent: true,
      style: { text: '(b) DPC 256-QAM', font: '26.5px "Liberation Serif", "Times New Roman", serif', fill: '#222', align: 'center', verticalAlign: 'middle', textAlign: 'center', textVerticalAlign: 'middle' } }
  ]
});
</script>
</body>
</html>
